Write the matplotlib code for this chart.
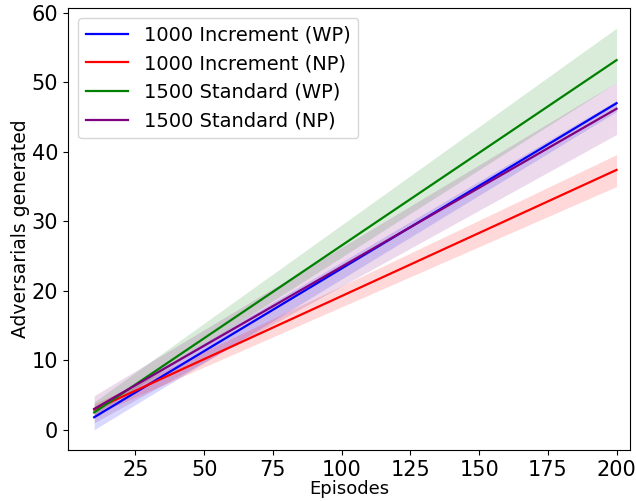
import matplotlib
matplotlib.use('Agg')
import matplotlib.pyplot as plt

# episodes at which the (linear) curves start and end
episodes = [10, 200]

inc_wp = [1.8, 47.0]
inc_wp_lo = [0.0, 45.8]
inc_wp_hi = [3.2, 47.4]

inc_np = [2.9, 37.4]
inc_np_lo = [2.1, 35.0]
inc_np_hi = [3.7, 39.6]

std_wp = [2.5, 53.2]
std_wp_lo = [2.2, 50.0]
std_wp_hi = [4.0, 57.8]

std_np = [3.0, 46.2]
std_np_lo = [1.0, 42.5]
std_np_hi = [4.9, 50.0]

series = [
    ('1000 Increment (WP)', inc_wp, inc_wp_lo, inc_wp_hi, 'blue'),
    ('1000 Increment (NP)', inc_np, inc_np_lo, inc_np_hi, 'red'),
    ('1500 Standard (WP)', std_wp, std_wp_lo, std_wp_hi, 'green'),
    ('1500 Standard (NP)', std_np, std_np_lo, std_np_hi, 'purple'),
]

fig = plt.figure(figsize=(6.36, 5.01), dpi=100)
ax = fig.add_axes([0.107, 0.102, 0.884, 0.882])

for label, y, lo, hi, c in series:
    ax.fill_between(episodes, lo, hi, color=c, alpha=0.15, linewidth=0)
for label, y, lo, hi, c in series:
    ax.plot(episodes, y, color=c, lw=1.6, label=label)

ax.set_xlim(0.5, 205)
ax.set_ylim(-2.9, 60.7)
ax.set_xticks([25, 50, 75, 100, 125, 150, 175, 200])
ax.set_yticks([0, 10, 20, 30, 40, 50, 60])
ax.tick_params(labelsize=15)
ax.set_xlabel('Episodes', fontsize=13, labelpad=0)
ax.set_ylabel('Adversarials generated', fontsize=13.5, labelpad=1)
ax.legend(loc='upper left', fontsize=14, handlelength=2.2)

fig.savefig('out.png', dpi=100)
